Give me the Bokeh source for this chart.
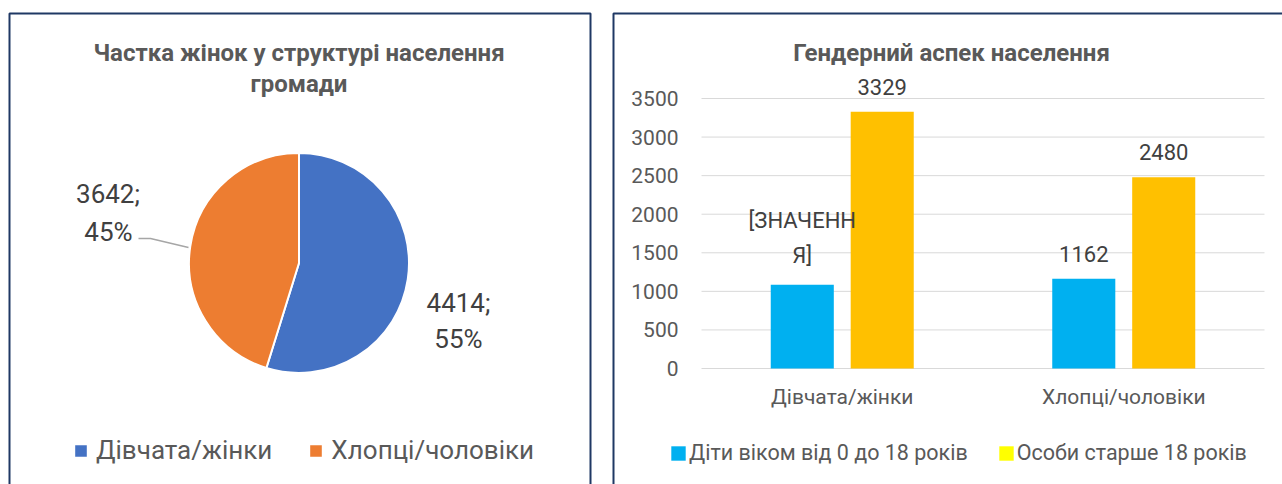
import math
from bokeh.plotting import figure
from bokeh.models import (Range1d, FixedTicker, Legend, LegendItem, LinearAxis,
                          BoxAnnotation, ColumnDataSource)
from bokeh.core.properties import value
from bokeh.embed import file_html
from bokeh.resources import INLINE

# ---------------- data ----------------
pie_title = ["Частка жінок у структурі населення", "громади"]
pie_labels = ["Дівчата/жінки", "Хлопці/чоловіки"]
pie_values = [4414, 3642]
pie_colors = ["#4472C4", "#ED7D31"]

bar_title = "Гендерний аспек населення"
bar_categories = ["Дівчата/жінки", "Хлопці/чоловіки"]
bar_series = ["Діти віком від 0 до 18 років", "Особи старше 18 років"]
children = [1085, 1162]
adults = [3329, 2480]
children_labels = ["[ЗНАЧЕНН\nЯ]", "1162"]
adults_labels = ["3329", "2480"]
bar_colors = ["#00B0F0", "#FFC000"]
legend_colors = ["#00B0F0", "#FFFF00"]
y_ticks = [0, 500, 1000, 1500, 2000, 2500, 3000, 3500]

# ---------------- style / layout ----------------
FONT_NAME = "Roboto"
FONT = value(FONT_NAME)
NAVY = "#1F3864"
GREY_TEXT = "#595959"
DARK_TEXT = "#404040"
W, H = 1282, 484


def PY(page_y):
    """page pixel row -> base-range y (pixel units, y up)"""
    return H - page_y


p = figure(width=W, height=H, x_range=Range1d(0, W), y_range=Range1d(0, H),
           min_border=0, x_axis_location=None, y_axis_location=None,
           toolbar_location=None, output_backend="svg", outline_line_color=None)
p.grid.visible = False

# panel frames
for left, right in ((9, 590), (613, W + 60)):
    p.add_layout(BoxAnnotation(left=left, right=right, top=PY(13), bottom=-60,
                               fill_color=None, fill_alpha=0, line_color=NAVY,
                               line_alpha=1, line_width=2, line_dash="solid"))

# ================= left panel: pie =================
total = sum(pie_values)
fracs = [v / total for v in pie_values]
starts, ends = [], []
cum = 0.0
for f in fracs:
    starts.append(math.pi / 2 - 2 * math.pi * cum)
    cum += f
    ends.append(math.pi / 2 - 2 * math.pi * cum)

cx, cy, R = 298.5, PY(262.5), 110
pie_src = ColumnDataSource(dict(start=starts, end=ends, color=pie_colors, label=pie_labels))
wedge_r = p.wedge(x=cx, y=cy, radius=R, start_angle="start", end_angle="end", direction="clock",
                  fill_color="color", line_color="white", line_width=2, source=pie_src)

pct = [round(100 * f) for f in fracs]
value_text = [f"{v};" for v in pie_values]
pct_text = [f"{q}%" for q in pct]
# (dx, dy) of the two label lines from the pie centre, per slice
line1_off = [(159.5, -39.5), (-191.0, 69.5)]
line2_off = [(159.5, -75.5), (-190.5, 31.5)]
offs = line1_off + line2_off
p.text(x=[cx + d[0] for d in offs], y=[cy + d[1] for d in offs], text=value_text + pct_text,
       text_align="center", text_baseline="middle", text_font=FONT, text_font_size="26px",
       text_color=DARK_TEXT)

# leader line for the orange slice label
p.line(x=[cx - 160.5, cx - 148.5, cx - 110.5], y=[cy + 24.5, cy + 24.5, cy + 15.5],
       line_color="#A6A6A6", line_width=1.5)

p.text(x=[298.5, 298.5], y=[PY(52), PY(83)], text=pie_title,
       text_align="center", text_baseline="middle", text_font=FONT, text_font_size="24px",
       text_font_style="bold", text_color=GREY_TEXT)

leg1 = Legend(items=[LegendItem(label=l, renderers=[wedge_r], index=i) for i, l in enumerate(pie_labels)],
              orientation="horizontal", location=(72, PY(465)),
              padding=0, margin=0, spacing=35, glyph_width=17, glyph_height=17, label_standoff=7,
              label_text_font=FONT_NAME, label_text_font_size="26px", label_text_color=GREY_TEXT,
              border_line_color=None, background_fill_alpha=0)
p.add_layout(leg1)

# ================= right panel: bars =================
PLOT_LEFT, PLOT_RIGHT = 701, 1264
ZERO_Y, TOP_TICK_Y = 368, 98
cat_px = (PLOT_RIGHT - PLOT_LEFT) / len(bar_categories)
px_per_unit = (ZERO_Y - TOP_TICK_Y) / y_ticks[-1]

p.extra_x_ranges = {"cats": Range1d((0 - PLOT_LEFT) / cat_px, (W - PLOT_LEFT) / cat_px)}
p.extra_y_ranges = {"bars": Range1d((ZERO_Y - H) / px_per_unit, ZERO_Y / px_per_unit)}

cat_pos = [i + 0.5 for i in range(len(bar_categories))]
OFF, BW = 0.142, 0.224

# horizontal gridlines at the tick values, across the category span
p.segment(x0=0, x1=len(bar_categories), y0=y_ticks, y1=y_ticks, line_color="#D9D9D9",
          line_width=1, x_range_name="cats", y_range_name="bars")

bar_src = ColumnDataSource(dict(pos=cat_pos, cat=bar_categories, children=children, adults=adults,
                                child_x=[c - OFF for c in cat_pos], adult_x=[c + OFF for c in cat_pos],
                                children_label=children_labels, adults_label=adults_labels))
child_r = p.vbar(x="child_x", top="children", width=BW, source=bar_src, fill_color=bar_colors[0],
                 line_color=None, x_range_name="cats", y_range_name="bars")
p.vbar(x="adult_x", top="adults", width=BW, source=bar_src, fill_color=bar_colors[1],
       line_color=None, x_range_name="cats", y_range_name="bars")
# legend key for the second series (its legend colour differs from the bar colour)
adult_key_r = p.vbar(x="adult_x", top="adults", width=0, source=bar_src, fill_color=legend_colors[1],
                     line_color=None, x_range_name="cats", y_range_name="bars")

for xcol, col, lab in (("child_x", "children", "children_label"), ("adult_x", "adults", "adults_label")):
    p.text(x=xcol, y=col, text=lab, source=bar_src, x_range_name="cats", y_range_name="bars",
           text_align="center", text_baseline="bottom", y_offset=-17,
           text_font=FONT, text_font_size="22px", text_color=DARK_TEXT, text_line_height=1.4)

yaxis = LinearAxis(x_range_name="cats", y_range_name="bars", fixed_location=0,
                   ticker=FixedTicker(ticks=y_ticks))
xaxis = LinearAxis(x_range_name="cats", y_range_name="bars", fixed_location=0,
                   ticker=FixedTicker(ticks=cat_pos),
                   major_label_overrides={c: n for c, n in zip(cat_pos, bar_categories)})
for ax in (xaxis, yaxis):
    ax.axis_line_color = None
    ax.major_tick_line_color = None
    ax.minor_tick_line_color = None
    ax.major_tick_out = 0
    ax.major_tick_in = 0
    ax.major_label_text_font = FONT_NAME
    ax.major_label_text_color = GREY_TEXT
yaxis.major_label_text_font_size = "21px"
yaxis.major_label_standoff = 23
xaxis.major_label_text_font_size = "21px"
xaxis.major_label_standoff = 16
p.add_layout(yaxis, "left")
p.add_layout(xaxis, "below")

p.text(x=[951], y=[PY(52)], text=[bar_title],
       text_align="center", text_baseline="middle", text_font=FONT, text_font_size="24px",
       text_font_style="bold", text_color=GREY_TEXT)

leg2 = Legend(items=[LegendItem(label=bar_series[0], renderers=[child_r]),
                     LegendItem(label=bar_series[1], renderers=[adult_key_r])],
              orientation="horizontal", location=(669, PY(465)),
              padding=0, margin=0, spacing=29, glyph_width=18, glyph_height=18, label_standoff=2,
              label_text_font=FONT_NAME, label_text_font_size="21.5px", label_text_color=GREY_TEXT,
              border_line_color=None, background_fill_alpha=0)
p.add_layout(leg2)

open("out.html", "w").write(file_html(p, INLINE))
